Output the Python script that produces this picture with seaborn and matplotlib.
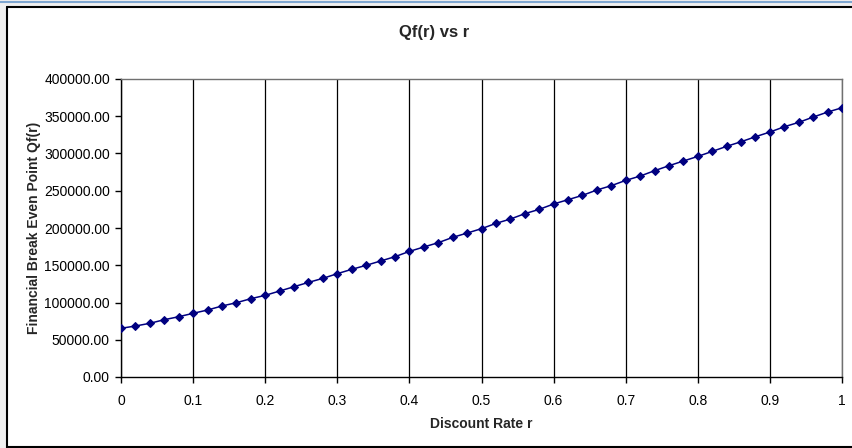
import matplotlib
matplotlib.use("Agg")
import matplotlib.pyplot as plt
import seaborn as sns
import pandas as pd
import numpy as np
from matplotlib.patches import Rectangle
from matplotlib.lines import Line2D
from matplotlib.ticker import FuncFormatter, MultipleLocator

sns.set_style("white")
plt.rcParams['font.family'] = ['Liberation Sans', 'DejaVu Sans']

rate = [0.00, 0.02, 0.04, 0.06, 0.08, 0.10, 0.12, 0.14, 0.16, 0.18,
        0.20, 0.22, 0.24, 0.26, 0.28, 0.30, 0.32, 0.34, 0.36, 0.38,
        0.40, 0.42, 0.44, 0.46, 0.48, 0.50, 0.52, 0.54, 0.56, 0.58,
        0.60, 0.62, 0.64, 0.66, 0.68, 0.70, 0.72, 0.74, 0.76, 0.78,
        0.80, 0.82, 0.84, 0.86, 0.88, 0.90, 0.92, 0.94, 0.96, 0.98, 1.00]
qf = [65350, 68440, 72060, 76900, 80900, 85480, 89900, 95300, 99700, 105100,
      109600, 115400, 121200, 127000, 132400, 138700, 144500, 149900, 155700, 161500,
      168600, 174500, 180300, 187400, 193200, 199100, 206200, 212000, 219200, 225000,
      232200, 238000, 243800, 251000, 256800, 263900, 269700, 276900, 283600, 289900,
      296100, 302800, 309600, 315800, 322500, 328800, 335900, 341800, 348900, 355600,
      361400]

title = "Qf(r) vs r"
xlabel = "Discount Rate r"
ylabel = "Financial Break Even Point Qf(r)"

df = pd.DataFrame({"r": rate, "Qf": qf})

W, H = 853, 448
fig = plt.figure(figsize=(W / 100, H / 100), dpi=100)
fig.patch.set_facecolor("#f0f0f0")

# chart frame (screenshot style)
fig.patches.append(Rectangle((7 / W, 0), 1, 1 - 7 / H, transform=fig.transFigure,
                             facecolor="white", edgecolor="none", zorder=-5))
fig.lines.append(Line2D([7.5 / W, 7.5 / W], [0, 1 - 7.5 / H], transform=fig.transFigure,
                        color="black", lw=1.5))
fig.lines.append(Line2D([7.5 / W, 1], [1 - 7.5 / H, 1 - 7.5 / H], transform=fig.transFigure,
                        color="black", lw=1.5))
fig.lines.append(Line2D([0, 1], [1 - 2 / H, 1 - 2 / H], transform=fig.transFigure,
                        color="#7fa6d0", lw=1.5))
fig.lines.append(Line2D([7.5 / W, 1], [1.5 / H, 1.5 / H], transform=fig.transFigure,
                        color="black", lw=1.5))

ax = fig.add_axes([121 / W, 1 - 377 / H, (842 - 121) / W, (377 - 79) / H])
ax.set_zorder(5)
ax.set_facecolor("white")

sns.lineplot(data=df, x="r", y="Qf", ax=ax, color="#000080", lw=1.1,
             marker="D", markersize=4.5, markeredgecolor="#000080",
             markerfacecolor="#000080", zorder=3)

ax.set_xlim(0, 1)
ax.set_ylim(0, 400000)
ax.xaxis.set_major_locator(MultipleLocator(0.1))
ax.yaxis.set_major_locator(MultipleLocator(50000))
ax.xaxis.set_major_formatter(FuncFormatter(lambda v, p: "0" if abs(v) < 1e-9 else ("1" if abs(v - 1) < 1e-9 else f"{v:.1f}")))
ax.yaxis.set_major_formatter(FuncFormatter(lambda v, p: f"{v:.2f}"))

ax.grid(axis="x", color="black", lw=0.9)
ax.grid(axis="y", visible=False)

for side in ["left", "bottom"]:
    ax.spines[side].set_color("black")
    ax.spines[side].set_linewidth(1.0)
for side in ["top", "right"]:
    ax.spines[side].set_color("#707070")
    ax.spines[side].set_linewidth(1.0)

ax.tick_params(axis="both", which="major", direction="out", length=4, width=1,
               color="black", labelsize=10, labelcolor="black", bottom=True, left=True)
ax.tick_params(axis="x", pad=8)
ax.tick_params(axis="y", pad=4)

ax.set_xlabel(xlabel, fontsize=10, fontweight="bold", labelpad=7)
ax.set_ylabel(ylabel, fontsize=10, fontweight="bold", labelpad=2)
fig.text(434 / W, 1 - 33 / H, title, fontsize=12, fontweight="bold",
         ha="center", va="center")

fig.savefig("out.png", dpi=100, facecolor=fig.get_facecolor())
